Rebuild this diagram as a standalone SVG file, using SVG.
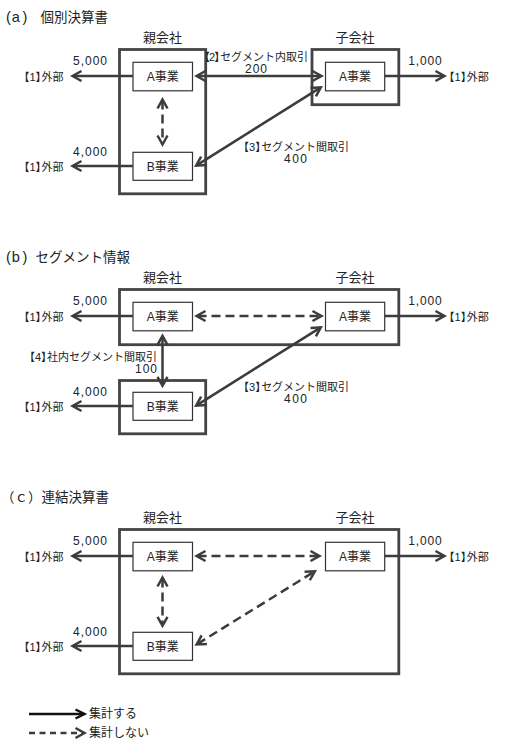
<svg xmlns="http://www.w3.org/2000/svg" width="510" height="750" viewBox="0 0 510 750">
<style>
.t{font-family:"Liberation Sans","Noto Sans CJK JP",sans-serif;fill:#222}
.title{font-size:13.5px}
.par{font-size:14.5px}
.co{font-size:13px;text-anchor:middle}
.nm{font-size:12px;text-anchor:middle}
.lbl{font-size:11px}
.num{font-size:12px}
.end{text-anchor:end}
.mid{text-anchor:middle}
.outer{fill:none;stroke:#444;stroke-width:2.8}
.inner{fill:#fff;stroke:#333;stroke-width:1.2}
.s{fill:none;stroke:#3c3c3c;stroke-width:2.5;marker-end:url(#ah)}
.d{fill:none;stroke:#3c3c3c;stroke-width:2.5;stroke-dasharray:9 5;marker-end:url(#ah)}
.b{marker-start:url(#ah)}
.k{fill:none;stroke:#111;stroke-width:2.5;marker-end:url(#ahk)}
</style>
<defs>
<marker id="ah" markerUnits="userSpaceOnUse" viewBox="-12 -7 16 14" refX="0" refY="0" markerWidth="16" markerHeight="14" orient="auto-start-reverse">
<path d="M-8,-5 L1,0 L-8,5" fill="none" stroke="#3c3c3c" stroke-width="2.5"/>
</marker>
<marker id="ahk" markerUnits="userSpaceOnUse" viewBox="-12 -7 16 14" refX="0" refY="0" markerWidth="16" markerHeight="14" orient="auto-start-reverse">
<path d="M-8,-4.5 L1,0 L-8,4.5" fill="none" stroke="#111" stroke-width="2.5"/>
</marker>
</defs>
<rect width="510" height="750" fill="#fff"/>

<!-- ===== (a) ===== -->
<g id="a-title"><text class="t title" y="22"><tspan class="par" x="6 11.8 22.5">(a)</tspan> <tspan x="40.5">個別決算書</tspan></text></g>
<g id="a-parent">
<text class="t co" x="162.5" y="41.5">親会社</text>
<rect class="outer" x="119.5" y="49.5" width="86.2" height="144.3"/>
</g>
<g id="a-child">
<text class="t co" x="355" y="41.5">子会社</text>
<rect class="outer" x="312" y="49.5" width="86.8" height="55.2"/>
</g>
<g id="a-parent-A"><rect class="inner" x="133" y="62.3" width="59.5" height="28.5"/><text class="t nm" x="162.7" y="81">A事業</text></g>
<g id="a-parent-B"><rect class="inner" x="133" y="152.3" width="59.5" height="28"/><text class="t nm" x="162.7" y="170.5">B事業</text></g>
<g id="a-child-A"><rect class="inner" x="325.5" y="62.3" width="59.2" height="28.5"/><text class="t nm" x="355" y="81">A事業</text></g>
<g id="a-ext-1"><text class="t lbl end" x="63.5" y="81" dx="0 0 0 -5 0">【1】外部</text></g>
<g id="a-ext-2"><text class="t lbl end" x="63.5" y="171" dx="0 0 0 -5 0">【1】外部</text></g>
<g id="a-ext-3"><text class="t lbl" x="443.5" y="81" dx="0 0 0 -5 0">【1】外部</text></g>

<!-- ===== (b) ===== -->
<g id="b-title"><text class="t title" y="262"><tspan class="par" x="6 11.8 22.5">(b)</tspan> <tspan x="35.5">セグメント情報</tspan></text></g>
<g id="b-parent">
<text class="t co" x="162.5" y="281.5">親会社</text>
<rect class="outer" x="119.5" y="289.5" width="279.3" height="55.2"/>
<rect class="outer" x="119.5" y="380.5" width="86.2" height="53.3"/>
</g>
<g id="b-child"><text class="t co" x="355" y="281.5">子会社</text></g>
<g id="b-parent-A"><rect class="inner" x="133" y="302.3" width="59.5" height="28.5"/><text class="t nm" x="162.7" y="321">A事業</text></g>
<g id="b-parent-B"><rect class="inner" x="133" y="392.3" width="59.5" height="28"/><text class="t nm" x="162.7" y="410.5">B事業</text></g>
<g id="b-child-A"><rect class="inner" x="325.5" y="302.3" width="59.2" height="28.5"/><text class="t nm" x="355" y="321">A事業</text></g>
<g id="b-ext-1"><text class="t lbl end" x="63.5" y="321" dx="0 0 0 -5 0">【1】外部</text></g>
<g id="b-ext-2"><text class="t lbl end" x="63.5" y="411" dx="0 0 0 -5 0">【1】外部</text></g>
<g id="b-ext-3"><text class="t lbl" x="443.5" y="321" dx="0 0 0 -5 0">【1】外部</text></g>

<!-- ===== (c) ===== -->
<g id="c-title"><text class="t title" x="1" y="502">（ｃ）連結決算書</text></g>
<g id="c-parent">
<text class="t co" x="162.5" y="521.5">親会社</text>
<rect class="outer" x="119.5" y="529.5" width="279.3" height="144.3"/>
</g>
<g id="c-child"><text class="t co" x="355" y="521.5">子会社</text></g>
<g id="c-parent-A"><rect class="inner" x="133" y="542.3" width="59.5" height="28.5"/><text class="t nm" x="162.7" y="561">A事業</text></g>
<g id="c-parent-B"><rect class="inner" x="133" y="632.3" width="59.5" height="28"/><text class="t nm" x="162.7" y="650.5">B事業</text></g>
<g id="c-child-A"><rect class="inner" x="325.5" y="542.3" width="59.2" height="28.5"/><text class="t nm" x="355" y="561">A事業</text></g>
<g id="c-ext-1"><text class="t lbl end" x="63.5" y="561" dx="0 0 0 -5 0">【1】外部</text></g>
<g id="c-ext-2"><text class="t lbl end" x="63.5" y="651" dx="0 0 0 -5 0">【1】外部</text></g>
<g id="c-ext-3"><text class="t lbl" x="443.5" y="561" dx="0 0 0 -5 0">【1】外部</text></g>

<!-- ===== legend ===== -->
<g id="legend">
<line class="k" x1="29" y1="714" x2="83.5" y2="714"/>
<text class="t lbl" x="89" y="718" style="font-size:12px">集計する</text>
<line class="d" x1="29" y1="733" x2="83.5" y2="733" style="stroke-dasharray:6 4.5"/>
<text class="t lbl" x="89" y="737" style="font-size:12px">集計しない</text>
</g>

<!-- ===== connectors ===== -->
<g id="connectors">
<!-- (a) -->
<line class="s" x1="133" y1="76" x2="73.5" y2="76"/>
<line class="s" x1="133" y1="166" x2="73.5" y2="166"/>
<line class="s" x1="385" y1="76" x2="443.5" y2="76"/>
<line class="s b" x1="197.5" y1="76" x2="320.5" y2="76"/>
<line class="d b" x1="162.5" y1="100.5" x2="162.5" y2="143.5"/>
<line class="s b" x1="197" y1="165.1" x2="320" y2="87.9"/>
<text class="t num" x="73" y="65" textLength="34" lengthAdjust="spacing">5,000</text>
<text class="t num" x="73" y="155.7" textLength="34" lengthAdjust="spacing">4,000</text>
<text class="t num" x="408.3" y="65" textLength="33.5" lengthAdjust="spacing">1,000</text>
<text class="t lbl" x="199" y="60.5" dx="0 -1 -1 -5">【2】セグメント内取引</text>
<text class="t num mid" x="256" y="73.3" textLength="22" lengthAdjust="spacing">200</text>
<text class="t lbl" x="238" y="151" dx="0 0 0 -5">【3】セグメント間取引</text>
<text class="t num mid" x="295.5" y="162.7" textLength="23" lengthAdjust="spacing">400</text>
<!-- (b) -->
<line class="s" x1="133" y1="316" x2="73.5" y2="316"/>
<line class="s" x1="133" y1="406" x2="73.5" y2="406"/>
<line class="s" x1="385" y1="316" x2="443.5" y2="316"/>
<line class="d b" x1="197.5" y1="316" x2="320.5" y2="316"/>
<line class="s b" x1="162.5" y1="336.8" x2="162.5" y2="384.8"/>
<line class="s b" x1="197" y1="405.1" x2="320" y2="327.9"/>
<text class="t num" x="73" y="305" textLength="34" lengthAdjust="spacing">5,000</text>
<text class="t num" x="73" y="395.7" textLength="34" lengthAdjust="spacing">4,000</text>
<text class="t num" x="408.3" y="305" textLength="33.5" lengthAdjust="spacing">1,000</text>
<text class="t lbl end" x="157" y="361.2" dx="0 0 0 -5">【4】社内セグメント間取引</text>
<text class="t num mid" x="146" y="373.3" textLength="22" lengthAdjust="spacing">100</text>
<text class="t lbl" x="238" y="391" dx="0 0 0 -5">【3】セグメント間取引</text>
<text class="t num mid" x="295.5" y="402.7" textLength="23" lengthAdjust="spacing">400</text>
<!-- (c) -->
<line class="s" x1="133" y1="556" x2="73.5" y2="556"/>
<line class="s" x1="133" y1="646" x2="73.5" y2="646"/>
<line class="s" x1="385" y1="556" x2="443.5" y2="556"/>
<line class="d b" x1="197.5" y1="556" x2="318.5" y2="556"/>
<line class="d b" x1="162.5" y1="578.5" x2="162.5" y2="624.8"/>
<line class="d b" x1="197.5" y1="643.9" x2="314" y2="571.8"/>
<text class="t num" x="73" y="545" textLength="34" lengthAdjust="spacing">5,000</text>
<text class="t num" x="73" y="635.7" textLength="34" lengthAdjust="spacing">4,000</text>
<text class="t num" x="408.3" y="545" textLength="33.5" lengthAdjust="spacing">1,000</text>
</g>
</svg>
